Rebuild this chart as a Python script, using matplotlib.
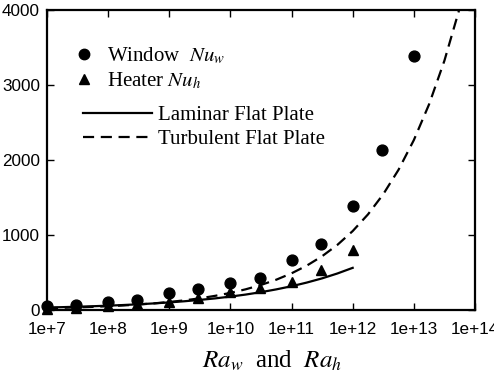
import matplotlib
matplotlib.use('Agg')
import matplotlib.pyplot as plt
from matplotlib.lines import Line2D

# Nusselt data
ra_data = [1e7, 3e7, 1e8, 3e8, 1e9, 3e9, 1e10, 3e10, 1e11, 3e11, 1e12, 3e12, 1e13]
nu_window = [50, 66, 106, 135, 222, 280, 355, 428, 665, 877, 1386, 2126, 3380]
ra_heater = [1e7, 3e7, 1e8, 3e8, 1e9, 3e9, 1e10, 3e10, 1e11, 3e11, 1e12]
nu_heater = [15, 30, 48, 75, 110, 160, 240, 290, 376, 530, 800]

# correlation curves, sampled every quarter decade
ra_lam = [1e7, 1.778e7, 3.162e7, 5.623e7,
          1e8, 1.778e8, 3.162e8, 5.623e8,
          1e9, 1.778e9, 3.162e9, 5.623e9,
          1e10, 1.778e10, 3.162e10, 5.623e10,
          1e11, 1.778e11, 3.162e11, 5.623e11, 1e12]
nu_lam = [31.5, 36.4, 42.0, 48.5,
          56.0, 64.7, 74.7, 86.2,
          99.6, 115, 133, 153,
          177, 204, 236, 273,
          315, 364, 420, 485, 560]
ra_turb = [1e7, 1.778e7, 3.162e7, 5.623e7,
           1e8, 1.778e8, 3.162e8, 5.623e8,
           1e9, 1.778e9, 3.162e9, 5.623e9,
           1e10, 1.778e10, 3.162e10, 5.623e10,
           1e11, 1.778e11, 3.162e11, 5.623e11,
           1e12, 1.778e12, 3.162e12, 5.623e12,
           1e13, 1.778e13, 3.162e13, 5.623e13, 1e14]
nu_turb = [22.6, 27.4, 33.2, 40.2,
           48.7, 59.0, 71.5, 86.6,
           105, 127, 154, 187,
           226, 274, 332, 402,
           487, 590, 715, 866,
           1050, 1272, 1541, 1867,
           2262, 2740, 3320, 4022, 4874]

xticks = [1e7, 1e8, 1e9, 1e10, 1e11, 1e12, 1e13, 1e14]
xticklabels = ['1e+7', '1e+8', '1e+9', '1e+10', '1e+11', '1e+12', '1e+13', '1e+14']
yticks = [0, 1000, 2000, 3000, 4000]

plt.rcParams['mathtext.fontset'] = 'stix'

fig = plt.figure(figsize=(4.94, 3.72), dpi=100)
ax = fig.add_axes([0.095, 0.167, 0.8665, 0.807])

ax.plot(ra_data, nu_window, 'o', color='black', ms=7.8, clip_on=False, zorder=3)
ax.plot(ra_heater, nu_heater, '^', color='black', ms=7.2, clip_on=False, zorder=3)
ax.plot(ra_lam, nu_lam, '-', color='black', lw=1.6)
ax.plot(ra_turb, nu_turb, '--', color='black', lw=1.6, dashes=(5, 3))

ax.set_xscale('log')
ax.set_xlim(1e7, 1e14)
ax.set_ylim(0, 4000)
ax.set_xticks(xticks)
ax.set_xticklabels(xticklabels, family='Liberation Sans', fontsize=12.3)
ax.minorticks_off()
ax.set_yticks(yticks)
ax.set_yticklabels([str(v) for v in yticks], family='Liberation Sans', fontsize=12.3)
ax.tick_params(direction='in', length=5, width=1, top=True, right=True)
ax.tick_params(axis='x', pad=9)
ax.tick_params(axis='y', pad=5)
for s in ax.spines.values():
    s.set_linewidth(1.6)

ax.set_xlabel(r'$Ra_w$  and  $Ra_h$', family='Liberation Serif', fontsize=18)
ax.xaxis.set_label_coords(0.525, -0.13)

serif = {'family': 'Liberation Serif', 'size': 15}
h1 = [Line2D([], [], ls='', marker='o', color='black', ms=7.5),
      Line2D([], [], ls='', marker='^', color='black', ms=7)]
leg1 = ax.legend(h1, [r'Window  $Nu_w$', r'Heater $Nu_h$'], prop=serif,
                 frameon=False, loc='upper left', bbox_to_anchor=(0.063, 0.88),
                 handlelength=1.0, handletextpad=0.6, labelspacing=0.2,
                 borderaxespad=0, borderpad=0)
ax.add_artist(leg1)
h2 = [Line2D([], [], ls='-', color='black', lw=1.6),
      Line2D([], [], ls='--', color='black', lw=1.6, dashes=(5, 3))]
ax.legend(h2, ['Laminar Flat Plate', 'Turbulent Flat Plate'], prop=serif,
          frameon=False, loc='upper left', bbox_to_anchor=(0.085, 0.68),
          handlelength=3.3, handletextpad=0.3, labelspacing=0.2,
          borderaxespad=0, borderpad=0)

fig.savefig('out.png', dpi=100)
